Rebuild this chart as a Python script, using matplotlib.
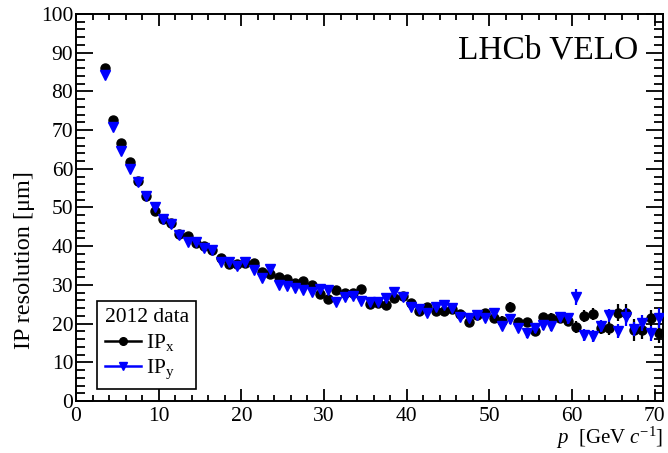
import matplotlib
matplotlib.use('Agg')
import matplotlib.pyplot as plt
from matplotlib.lines import Line2D
from matplotlib.ticker import MultipleLocator

plt.rcParams['font.family'] = ['Liberation Serif', 'DejaVu Serif']
plt.rcParams['mathtext.fontset'] = 'custom'
plt.rcParams['mathtext.rm'] = 'Liberation Serif'
plt.rcParams['mathtext.it'] = 'Liberation Serif:italic'

# momentum bin centres [GeV/c]
p = [3.5, 4.5, 5.5, 6.5, 7.5, 8.5, 9.5, 10.5, 11.5, 12.5,
     13.5, 14.5, 15.5, 16.5, 17.5, 18.5, 19.5, 20.5, 21.5, 22.5,
     23.5, 24.5, 25.5, 26.5, 27.5, 28.5, 29.5, 30.5, 31.5, 32.5,
     33.5, 34.5, 35.5, 36.5, 37.5, 38.5, 39.5, 40.5, 41.5, 42.5,
     43.5, 44.5, 45.5, 46.5, 47.5, 48.5, 49.5, 50.5, 51.5, 52.5,
     53.5, 54.5, 55.5, 56.5, 57.5, 58.5, 59.5, 60.5, 61.5, 62.5,
     63.5, 64.5, 65.5, 66.5, 67.5, 68.5, 69.5, 70.5]

# IP resolution in x [um]
ipx = [86.1, 72.6, 66.7, 61.8, 56.8, 53.0, 49.1, 47.0, 45.9, 43.1,
       42.6, 40.9, 40.0, 39.0, 36.9, 35.3, 35.3, 35.6, 35.7, 33.4,
       32.8, 32.1, 31.4, 30.6, 31.1, 30.0, 27.6, 26.4, 28.8, 27.8,
       27.8, 28.9, 25.0, 25.2, 24.8, 26.7, 27.1, 25.2, 23.3, 24.2,
       23.3, 23.3, 23.7, 22.5, 20.5, 22.2, 22.8, 21.5, 20.8, 24.4,
       20.3, 20.3, 18.1, 21.6, 21.4, 21.4, 20.7, 19.2, 22.0, 22.5,
       18.8, 18.8, 22.8, 22.8, 18.3, 18.3, 21.4, 17.6]
ipx_err = [0.2, 0.2, 0.2, 0.2, 0.2, 0.2, 0.2, 0.3, 0.3, 0.3,
           0.3, 0.3, 0.3, 0.3, 0.3, 0.4, 0.4, 0.4, 0.4, 0.4,
           0.4, 0.5, 0.5, 0.5, 0.5, 0.5, 0.5, 0.6, 0.6, 0.6,
           0.6, 0.6, 0.7, 0.7, 0.7, 0.7, 0.8, 0.8, 0.8, 0.8,
           0.8, 0.9, 0.9, 0.9, 0.9, 1.0, 1.0, 1.0, 1.1, 1.2,
           1.1, 1.1, 1.2, 1.2, 1.3, 1.3, 1.4, 1.5, 1.5, 1.6,
           1.6, 1.7, 2.2, 2.3, 2.8, 2.4, 2.0, 2.6]

# IP resolution in y [um]
ipy = [84.2, 70.9, 64.7, 59.9, 56.7, 52.9, 50.2, 46.9, 45.7, 43.0,
       41.0, 41.0, 39.6, 39.0, 36.0, 35.8, 35.0, 35.8, 33.9, 31.7,
       34.0, 30.0, 29.7, 29.1, 28.7, 28.2, 28.9, 28.7, 25.5, 26.8,
       27.1, 25.8, 25.7, 25.5, 26.5, 28.2, 26.9, 24.4, 23.7, 22.7,
       24.4, 24.8, 24.0, 21.6, 21.4, 22.2, 21.5, 22.8, 19.4, 21.1,
       18.9, 17.5, 18.8, 19.6, 19.4, 21.6, 21.4, 26.9, 17.1, 16.8,
       19.4, 22.2, 18.2, 21.8, 18.6, 20.2, 17.5, 21.4]
ipy_err = [0.2, 0.2, 0.2, 0.2, 0.2, 0.2, 0.2, 0.3, 0.3, 0.3,
           0.3, 0.3, 0.3, 0.3, 0.3, 0.4, 0.4, 0.4, 0.4, 0.4,
           0.4, 0.5, 0.5, 0.5, 0.5, 0.5, 0.5, 0.6, 0.6, 0.6,
           0.6, 0.6, 0.7, 0.7, 0.7, 0.7, 0.8, 0.8, 0.8, 0.8,
           0.8, 0.9, 0.9, 0.9, 0.9, 1.0, 1.0, 1.0, 1.1, 1.2,
           1.1, 1.1, 1.2, 1.2, 1.3, 1.3, 1.4, 2.0, 1.5, 1.5,
           1.6, 1.7, 1.8, 2.3, 1.9, 2.0, 2.0, 2.6]

W, H = 668, 453
fig = plt.figure(figsize=(W / 100, H / 100), dpi=100)
ax = fig.add_axes([76 / W, 1 - 401 / H, 587 / W, 387 / H])

ax.errorbar(p, ipx, yerr=ipx_err, fmt='o', color='black', ms=6.5,
            elinewidth=1.6, capsize=0, zorder=3)
ax.errorbar(p, ipy, yerr=ipy_err, fmt='v', color='#0000ff', ms=6.5,
            elinewidth=1.6, capsize=0, zorder=4)

ax.set_xlim(0, 71)
ax.set_ylim(0, 100)
ax.xaxis.set_major_locator(MultipleLocator(10))
ax.xaxis.set_minor_locator(MultipleLocator(2))
ax.yaxis.set_major_locator(MultipleLocator(10))
ax.yaxis.set_minor_locator(MultipleLocator(2))
ax.tick_params(axis='both', which='both', direction='in', top=True, right=True,
               labelsize=15.5, width=1.3, colors='black')
ax.tick_params(axis='x', which='major', length=8.5, pad=4)
ax.tick_params(axis='x', which='minor', length=4.3)
ax.tick_params(axis='y', which='major', length=12.5, pad=2)
ax.tick_params(axis='y', which='minor', length=6.3)
for s in ax.spines.values():
    s.set_linewidth(1.4)

fig.text(25 / W, 1 - 260 / H, u'IP resolution [\u03bcm]', rotation=90,
         ha='center', va='center', fontsize=17.5)
fig.text(663 / W, 1 - 444 / H, r'$p$  [GeV $c^{\mathrm{-1}}$]',
         ha='right', va='baseline', fontsize=15)
ax.text(0.958, 0.885, 'LHCb VELO', transform=ax.transAxes, ha='right',
        va='baseline', fontsize=24)

handles = [Line2D([], [], color='black', marker='o', ms=5.5, lw=1.8),
           Line2D([], [], color='#0000ff', marker='v', ms=5.5, lw=1.8)]
leg = ax.legend(handles, [r'IP$_{\mathrm{x}}$', r'IP$_{\mathrm{y}}$'],
                title='2012 data', loc='lower left',
                bbox_to_anchor=(0.036, 0.031), borderaxespad=0,
                fontsize=15.5, title_fontsize=15.5, fancybox=False,
                edgecolor='black', framealpha=1, handlelength=1.7,
                handletextpad=0.2, borderpad=0.35, labelspacing=0.22,
                alignment='left')
leg.get_frame().set_linewidth(1.2)

fig.savefig('out.png', dpi=100)
